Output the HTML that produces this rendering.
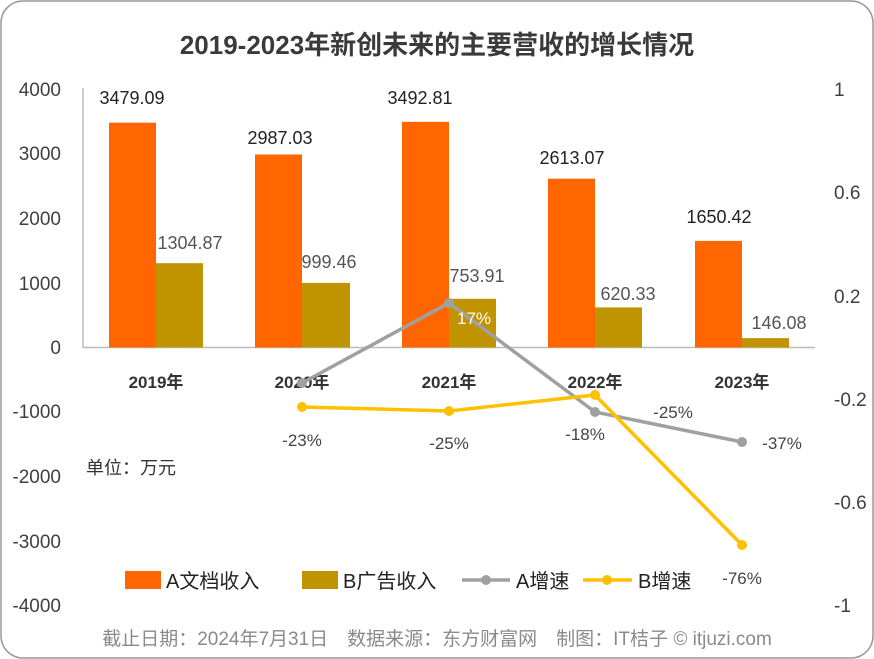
<!DOCTYPE html>
<html><head><meta charset="utf-8"><style>
html,body{margin:0;padding:0;background:#fff;}
svg{display:block;}
text{font-family:"Liberation Sans","Noto Sans CJK SC",sans-serif;}
</style></head><body>
<svg width="874" height="659" viewBox="0 0 874 659" xmlns="http://www.w3.org/2000/svg">
<rect x="1" y="1" width="872" height="657" rx="22" fill="#fff" stroke="#9a9a9a" stroke-width="1.5"/>
<text x="437" y="54" text-anchor="middle" font-size="26" font-weight="bold" fill="#3a3a3a">2019-2023年新创未来的主要营收的增长情况</text>
<g font-size="19" fill="#404040" text-anchor="end">
<text x="61" y="96">4000</text><text x="61" y="160">3000</text><text x="61" y="225">2000</text><text x="61" y="290">1000</text><text x="61" y="354">0</text><text x="61" y="418">-1000</text><text x="61" y="483">-2000</text><text x="61" y="548">-3000</text><text x="61" y="612">-4000</text>
</g>
<g font-size="19" fill="#404040" text-anchor="start">
<text x="834" y="96">1</text><text x="834" y="199">0.6</text><text x="834" y="303">0.2</text><text x="834" y="406">-0.2</text><text x="834" y="509">-0.6</text><text x="834" y="612">-1</text>
</g>
<line x1="83" y1="88" x2="83" y2="348" stroke="#bbb" stroke-width="1.5"/>
<line x1="83" y1="347.5" x2="815" y2="347.5" stroke="#bbb" stroke-width="1.5"/>
<g fill="#ff6600">
<rect x="109" y="122.7" width="47" height="224.8"/>
<rect x="255" y="154.5" width="47" height="193"/>
<rect x="402" y="121.8" width="47" height="225.7"/>
<rect x="548" y="178.7" width="47" height="168.8"/>
<rect x="695" y="240.9" width="47" height="106.6"/>
</g>
<g fill="#c09300">
<rect x="156" y="263.2" width="47" height="84.3"/>
<rect x="302" y="282.9" width="48" height="64.6"/>
<rect x="449" y="298.8" width="47" height="48.7"/>
<rect x="595" y="307.4" width="47" height="40.1"/>
<rect x="742" y="338.1" width="47" height="9.4"/>
</g>
<g font-size="18" fill="#222" text-anchor="middle">
<text x="132" y="104">3479.09</text><text x="280" y="144">2987.03</text><text x="420" y="104">3492.81</text><text x="572" y="164">2613.07</text><text x="719" y="223">1650.42</text>
</g>
<g font-size="18" fill="#555" text-anchor="middle">
<text x="190" y="249">1304.87</text><text x="329" y="268">999.46</text><text x="477" y="282">753.91</text><text x="628" y="300">620.33</text><text x="779" y="329">146.08</text>
</g>
<g font-size="17" font-weight="bold" fill="#333" text-anchor="middle">
<text x="156" y="388">2019年</text><text x="302" y="388">2020年</text><text x="449" y="388">2021年</text><text x="595" y="388">2022年</text><text x="742" y="388">2023年</text>
</g>
<polyline points="302,383 449,303 595,412 742,442" fill="none" stroke="#a0a0a0" stroke-width="3.5"/>
<g fill="#a0a0a0"><circle cx="302" cy="383" r="5"/><circle cx="449" cy="303" r="5"/><circle cx="595" cy="412" r="5"/><circle cx="742" cy="442" r="5"/></g>
<polyline points="302,407 449,411 595,395 742,545" fill="none" stroke="#ffc000" stroke-width="3.5"/>
<g fill="#ffc000"><circle cx="302" cy="407" r="5"/><circle cx="449" cy="411" r="5"/><circle cx="595" cy="395" r="5"/><circle cx="742" cy="545" r="5"/></g>
<g font-size="17" fill="#444" text-anchor="middle">
<text x="474" y="324" fill="#fff">17%</text><text x="673" y="418">-25%</text><text x="782" y="449">-37%</text>
<text x="302" y="446">-23%</text><text x="449" y="449">-25%</text><text x="585" y="440">-18%</text><text x="742" y="584">-76%</text>
</g>
<text x="86" y="474" font-size="18" fill="#333">单位：万元</text>
<rect x="125" y="571" width="36" height="18" fill="#ff6600"/>
<text x="166" y="588" font-size="20" fill="#222">A文档收入</text>
<rect x="302" y="571" width="36" height="18" fill="#c09300"/>
<text x="343" y="588" font-size="20" fill="#222">B广告收入</text>
<line x1="462" y1="580" x2="510" y2="580" stroke="#a0a0a0" stroke-width="3.5"/><circle cx="486" cy="580" r="5" fill="#a0a0a0"/>
<text x="516" y="588" font-size="20" fill="#222">A增速</text>
<line x1="583" y1="580" x2="632" y2="580" stroke="#ffc000" stroke-width="3.5"/><circle cx="607" cy="580" r="5" fill="#ffc000"/>
<text x="638" y="588" font-size="20" fill="#222">B增速</text>
<text x="437" y="645" text-anchor="middle" font-size="19" fill="#8a8a8a">截止日期：2024年7月31日　数据来源：东方财富网　制图：IT桔子 © itjuzi.com</text>
</svg>
</body></html>
